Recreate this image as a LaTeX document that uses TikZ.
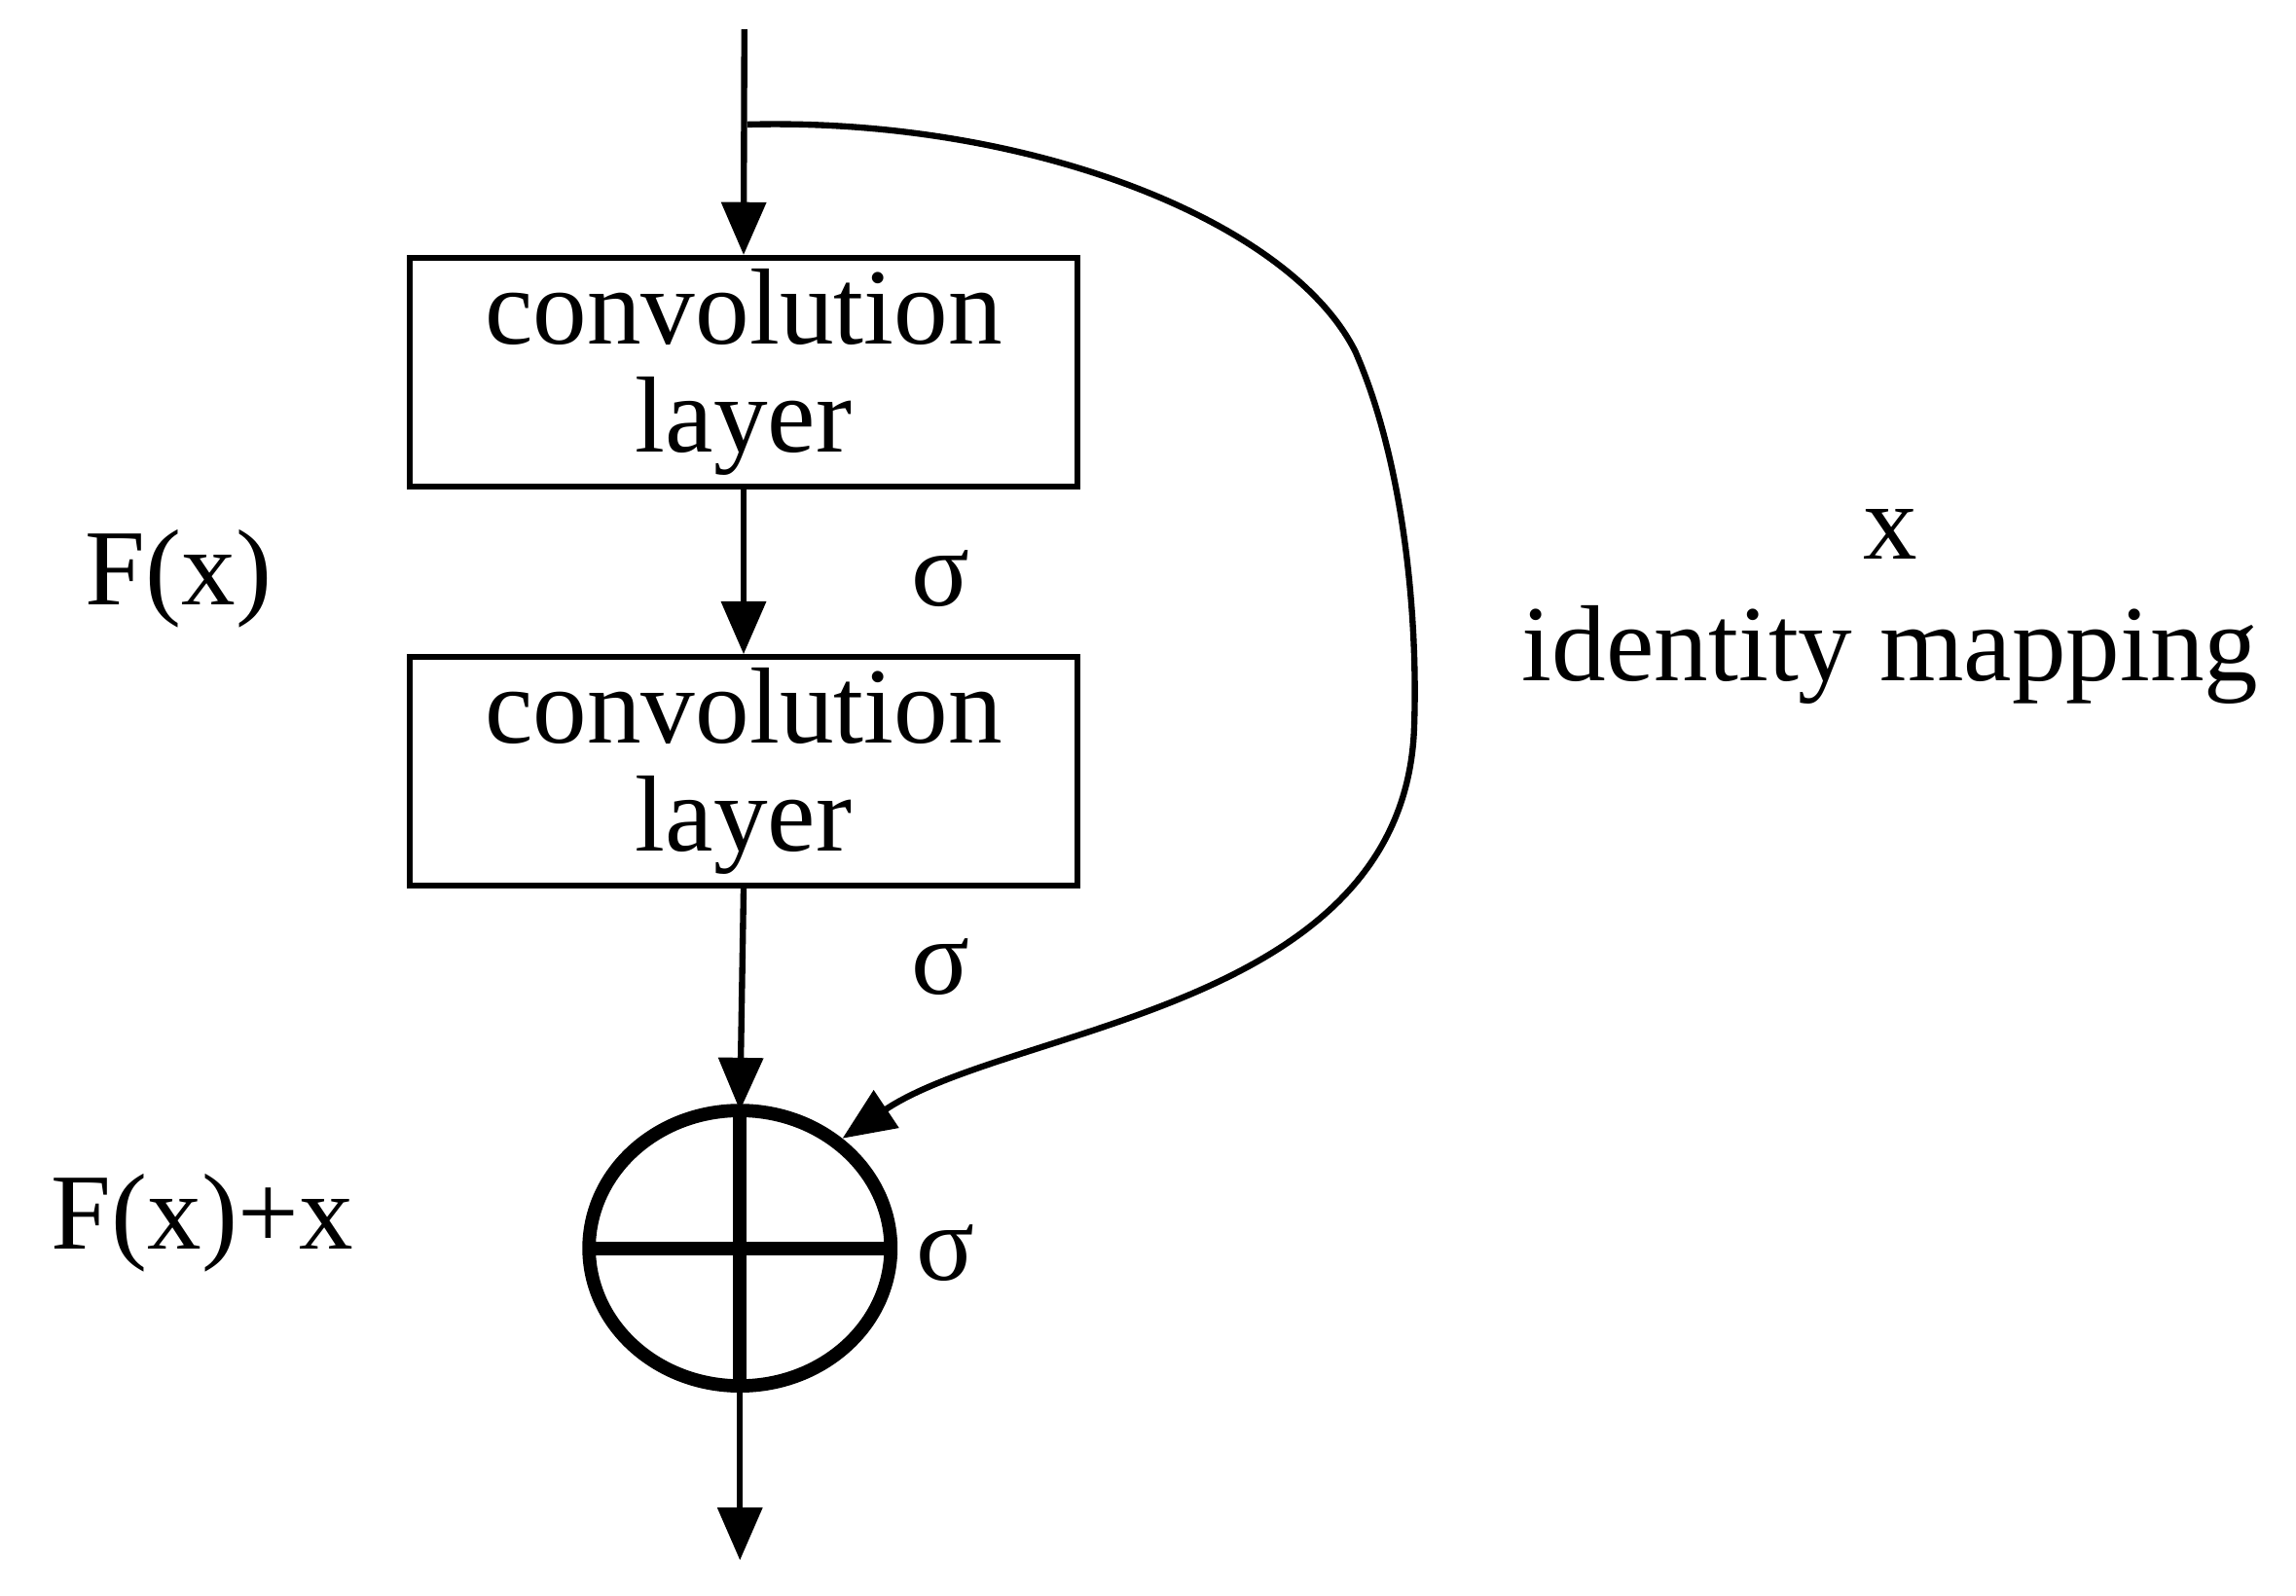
\documentclass[tikz,border=0pt]{standalone}
\usepackage{fontspec}
\setmainfont{Liberation Serif}
\usetikzlibrary{arrows.meta}
\begin{document}
\begin{tikzpicture}[x=0.01cm,y=-0.01cm,
  every node/.style={font=\fontsize{21}{24}\selectfont},
  box/.style={draw,line width=1.1pt,minimum width=4.55cm,minimum height=1.56cm,align=center,inner sep=0pt},
  arr/.style={line width=1.2pt,-{Triangle[length=0.36cm,width=0.3cm]}},
  ln/.style={line width=1.2pt}]
\useasboundingbox (0,0) rectangle (1567,1089);
\coordinate (top) at (508,20);
\coordinate (br) at (510,85);
\coordinate (bot) at (505,1065);
\node[box] (b1) at (507.5,254) {convolution\\[-3pt]layer};
\node[box] (b2) at (507.5,526.5) {convolution\\[-3pt]layer};
\draw[line width=2.6pt] (505,852) ellipse (103 and 94);
\node[minimum size=0,inner sep=0] (sum) at (505,852) {};
\coordinate (stop) at (505,758);
\coordinate (sbot) at (505,946);
\draw[line width=2.6pt] (stop) -- (sbot) (402,852) -- (608,852);
\draw[arr] (top) -- (b1.north);
\draw[arr] (b1.south) -- (b2.north);
\draw[arr] (b2.south) -- (stop);
\draw[arr] (sbot) -- (bot);
\coordinate (tip) at (575,777);
\draw[arr] (br) .. controls (700,80) and (880,150) .. (925,240)
  .. controls (960,320) and (968,430) .. (965,500)
  .. controls (955,690) and (690,700) .. (tip);
\node (s1) at (642,395) {σ};
\node (s2) at (642,660) {σ};
\node (s3) at (645,855) {σ};
\node (f1) at (122,395) {F(x)};
\node (f2) at (138,835) {F(x)+x};
\node (xl) at (1290,365) {x};
\node (id) at (1290,447) {identity mapping};
\end{tikzpicture}
\end{document}
